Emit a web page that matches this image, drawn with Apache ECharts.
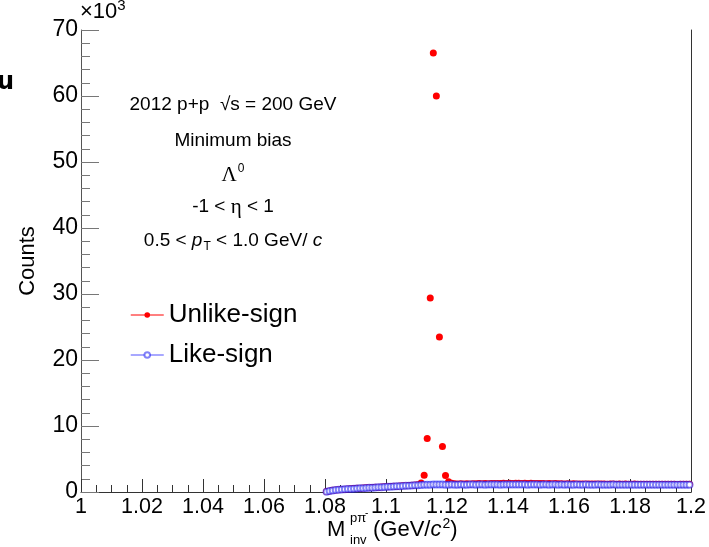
<!DOCTYPE html>
<html>
<head>
<meta charset="utf-8">
<title>Lambda invariant mass</title>
<script src="https://cdn.jsdelivr.net/npm/echarts@6/dist/echarts.min.js"></script>
<style>
  html, body { margin: 0; padding: 0; background: #fff; }
  #main { width: 709px; height: 547px; }
</style>
</head>
<body>
<div id="main"></div>
<script>
// 分箱: 1.080 ~ 1.200, 每箱 0.001
const binStart = 1.080
const binWidth = 0.001

// Unlike-sign (p pi-) 计数
const unlikeSign = [
  60, 170, 250, 310, 350, 390, 430, 460, 500, 520,
  550, 580, 610, 630, 660, 680, 710, 730, 760, 780,
  810, 830, 860, 880, 910, 940, 960, 990, 1020, 1060,
  1100, 1350, 2550, 8100, 29400, 66500, 60000, 23500, 6900, 2500,
  1550, 1330, 1260, 1230, 1240, 1220, 1250, 1230, 1260, 1240,
  1270, 1250, 1280, 1260, 1290, 1270, 1300, 1280, 1310, 1290,
  1320, 1300, 1310, 1330, 1300, 1320, 1290, 1310, 1280, 1300,
  1270, 1290, 1260, 1280, 1250, 1270, 1240, 1260, 1230, 1250,
  1220, 1240, 1210, 1230, 1220, 1210, 1230, 1200, 1220, 1210,
  1200, 1220, 1190, 1210, 1200, 1190, 1210, 1180, 1200, 1190,
  1180, 1200, 1170, 1190, 1180, 1170, 1190, 1160, 1180, 1170,
  1160, 1180, 1170, 1160, 1180, 1150, 1170, 1160, 1180, 1170
]

// Like-sign 背景计数
const likeSign = [
  40, 150, 230, 290, 330, 370, 410, 440, 470, 500,
  530, 560, 580, 610, 630, 660, 680, 710, 730, 760,
  780, 810, 830, 860, 880, 910, 930, 960, 990, 1010,
  1040, 1070, 1090, 1100, 1110, 1120, 1120, 1130, 1120, 1110,
  1110, 1120, 1100, 1110, 1120, 1100, 1110, 1130, 1120, 1100,
  1120, 1130, 1110, 1120, 1140, 1120, 1130, 1110, 1130, 1120,
  1140, 1120, 1130, 1150, 1120, 1130, 1110, 1140, 1120, 1130,
  1110, 1130, 1120, 1100, 1120, 1130, 1110, 1120, 1100, 1120,
  1110, 1100, 1120, 1110, 1100, 1120, 1090, 1110, 1100, 1120,
  1100, 1090, 1110, 1100, 1120, 1090, 1100, 1110, 1090, 1100,
  1110, 1090, 1100, 1080, 1100, 1110, 1090, 1100, 1080, 1100,
  1090, 1100, 1080, 1090, 1100, 1080, 1090, 1100, 1080, 1090
]

const legendNames = ['Unlike-sign', 'Like-sign']
const infoLines = [
  '2012 p+p  √s = 200 GeV',
  'Minimum bias',
  '{g|Λ}{sup|0}',
  '-1 < {g|η} < 1',
  '0.5 < {i|p}{sub|T} < 1.0 GeV/ {i|c}'
]

const font = 'Liberation Sans, Arial, sans-serif'
const axisColor = '#333'

// 箱中心
function toPairs(values) {
  return values.map((v, i) => [binStart + binWidth * (i + 0.5), v])
}

const chart = echarts.init(document.getElementById('main'), null, { renderer: 'canvas' })

const richBase = {
  g: { fontFamily: 'Liberation Serif, serif', fontSize: 21, color: '#000' },
  i: { fontFamily: font, fontStyle: 'italic', fontSize: 19, color: '#000' },
  sup: { fontFamily: font, fontSize: 12, color: '#000', padding: [0, 0, 12, 1] },
  sub: { fontFamily: font, fontSize: 12, color: '#000', padding: [12, 0, 0, 1] }
}

const infoY = [105, 141, 175, 207, 241]
const infoGraphics = infoLines.map((t, k) => ({
  type: 'text',
  x: 233,
  y: infoY[k],
  style: {
    text: t,
    fontFamily: font,
    fontSize: 19,
    fill: '#000',
    align: 'center',
    verticalAlign: 'middle',
    rich: richBase
  }
}))

const option = {
  animation: false,
  backgroundColor: '#fff',
  grid: { left: 81, right: 9, top: 30, bottom: 55, containLabel: false },
  legend: {
    orient: 'vertical',
    left: 125,
    top: 297,
    itemWidth: 33,
    itemHeight: 7,
    itemGap: 14,
    textStyle: { fontFamily: font, fontSize: 26, color: '#000' },
    data: [
      { name: legendNames[0], lineStyle: { color: '#ff0000', width: 1, opacity: 1 } },
      { name: legendNames[1], lineStyle: { color: 'rgba(60,60,255,0.6)', width: 1.5, opacity: 1 } }
    ]
  },
  xAxis: {
    type: 'value',
    min: 1,
    max: 1.2,
    interval: 0.02,
    axisLine: { lineStyle: { color: axisColor } },
    axisTick: { inside: true, length: 13, lineStyle: { color: axisColor } },
    minorTick: { show: true, splitNumber: 4, length: 7, lineStyle: { color: axisColor } },
    splitLine: { show: false },
    minorSplitLine: { show: false },
    axisLabel: {
      fontFamily: font,
      fontSize: 21.5,
      color: '#000',
      margin: 4,
      showMaxLabel: true,
      formatter: v => String(+v.toFixed(2))
    }
  },
  yAxis: [
    {
      type: 'value',
      min: 0,
      max: 70000,
      interval: 10000,
      name: 'Counts',
      nameLocation: 'middle',
      nameRotate: 90,
      nameGap: 42,
      nameTextStyle: { fontFamily: font, fontSize: 22, color: '#000' },
      axisLine: { show: true, lineStyle: { color: '#555' } },
      axisTick: { inside: true, length: 18, lineStyle: { color: '#777' } },
      minorTick: { show: true, splitNumber: 5, length: 9, lineStyle: { color: '#777' } },
      splitLine: { show: false },
      axisLabel: {
        fontFamily: font,
        fontSize: 23,
        color: '#000',
        margin: 3,
        formatter: v => String(v / 1000)
      }
    },
    {
      // 右侧边框
      type: 'value',
      position: 'right',
      min: 0,
      max: 70000,
      axisLine: { show: true, lineStyle: { color: axisColor } },
      axisTick: { show: false },
      axisLabel: { show: false },
      splitLine: { show: false }
    }
  ],
  series: [
    {
      name: legendNames[0],
      type: 'line',
      data: toPairs(unlikeSign),
      symbol: 'circle',
      symbolSize: 7,
      showAllSymbol: true,
      itemStyle: { color: '#ff0000' },
      lineStyle: { width: 0, color: '#ff0000' },
      z: 2
    },
    {
      name: legendNames[1],
      type: 'line',
      data: toPairs(likeSign),
      symbol: 'emptyCircle',
      symbolSize: 6,
      showAllSymbol: true,
      itemStyle: { color: 'rgba(30,30,240,0.55)', borderWidth: 1.2 },
      lineStyle: { width: 0, color: 'rgba(30,30,240,0.55)' },
      z: 3
    }
  ],
  graphic: [
    // 左上角被截断的字符
    {
      type: 'text',
      x: -3,
      y: 71,
      style: { text: 'u', fontFamily: 'DejaVu Sans, sans-serif', fontWeight: 'bold', fontSize: 24, fill: '#000' }
    },
    // 纵轴量级
    {
      type: 'text',
      x: 80,
      y: 12,
      style: {
        text: '×10{sup|3}',
        fontFamily: font,
        fontSize: 22,
        fill: '#000',
        verticalAlign: 'middle',
        rich: { sup: { fontFamily: font, fontSize: 15, color: '#000', padding: [0, 0, 12, 0] } }
      }
    },
    // 横轴标题
    {
      type: 'text', x: 327, y: 530,
      style: { text: 'M', fontFamily: font, fontSize: 22, fill: '#000', verticalAlign: 'middle' }
    },
    {
      type: 'text', x: 350, y: 518,
      style: { text: 'pπ', fontFamily: font, fontSize: 13, fill: '#000', verticalAlign: 'middle' }
    },
    {
      type: 'text', x: 365, y: 513,
      style: { text: '-', fontFamily: font, fontSize: 10, fill: '#000', verticalAlign: 'middle' }
    },
    {
      type: 'text', x: 350, y: 540,
      style: { text: 'inv', fontFamily: font, fontSize: 13, fill: '#000', verticalAlign: 'middle' }
    },
    {
      type: 'text', x: 373, y: 530,
      style: {
        text: '(GeV/{i|c}{sup|2})',
        fontFamily: font,
        fontSize: 22,
        fill: '#000',
        verticalAlign: 'middle',
        rich: {
          i: { fontFamily: font, fontStyle: 'italic', fontSize: 22, color: '#000' },
          sup: { fontFamily: font, fontSize: 14, color: '#000', padding: [0, 0, 12, 1] }
        }
      }
    }
  ].concat(infoGraphics)
}

chart.setOption(option)
</script>
</body>
</html>
